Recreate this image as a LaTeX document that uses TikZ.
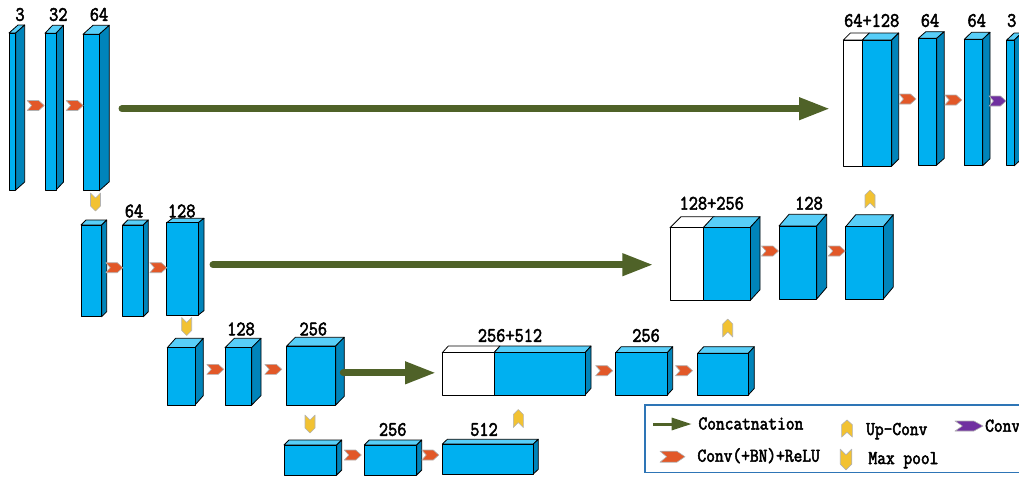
\documentclass[tikz,border=0pt]{standalone}
\usepackage{fontspec}
\usetikzlibrary{arrows.meta,fit}
\newfontfamily\lblfont[FakeStretch=0.87,FakeBold=2.6]{Latin Modern Mono}
\definecolor{frontc}{RGB}{0,176,240}
\definecolor{topc}{RGB}{88,206,248}
\definecolor{sidec}{RGB}{0,132,186}
\definecolor{concatc}{RGB}{79,98,40}
\definecolor{convc}{RGB}{226,88,40}
\definecolor{poolc}{RGB}{242,194,50}
\definecolor{finalc}{RGB}{112,48,160}
\definecolor{legendc}{RGB}{46,117,182}
\tikzset{
  face/.style={draw=black, line width=0.8pt, line join=round},
  frontbox/.style={face, fill=frontc, inner sep=0pt},
  whitebox/.style={face, fill=white, inner sep=0pt},
  num/.style={font=\lblfont\fontsize{20.5}{20.5}\selectfont, inner sep=0pt},
  legtxt/.style={font=\lblfont\fontsize{19.5}{19.5}\selectfont, inner sep=0pt, anchor=base west},
  concat/.style={draw=concatc, line width=7pt, line cap=round, -{Triangle[length=31pt,width=21pt]}},
  icon/.style={draw=gray!60, line width=0.6pt, line join=round},
  convchev/.pic={\filldraw[icon,fill=convc] (-8.5,-5) -- (3,-5) -- (8.5,0) -- (3,5) -- (-8.5,5) -- (-4,0) -- cycle;},
  finalchev/.pic={\filldraw[icon,fill=finalc] (-8.5,-5) -- (3,-5) -- (8.5,0) -- (3,5) -- (-8.5,5) -- (-4,0) -- cycle;},
  upchev/.pic={\filldraw[icon,fill=poolc] (-5,9) -- (-5,-4) -- (0,-9) -- (5,-4) -- (5,9) -- (0,4) -- cycle;},
  downchev/.pic={\filldraw[icon,fill=poolc] (-5,-9) -- (-5,4) -- (0,9) -- (5,4) -- (5,-9) -- (0,-4) -- cycle;},
}
% #1 name, #2 x1, #3 y1, #4 x2, #5 y2, #6 dx, #7 dy
\newcommand\blk[7]{%
  \filldraw[face,fill=topc] (#2,#3) -- ++(#6,-#7) -- ++(#4-#2,0) -- (#4,#3) -- cycle;
  \filldraw[face,fill=sidec] (#4,#3) -- ++(#6,-#7) -- ++(0,#5-#3) -- (#4,#5) -- cycle;
  \node[frontbox, fit={(#2,#3) (#4,#5)}] (#1) {};
}
\newcommand\wblk[7]{%
  \filldraw[face,fill=white] (#2,#3) -- ++(#6,-#7) -- ++(#4-#2,0) -- (#4,#3) -- cycle;
  \node[whitebox, fit={(#2,#3) (#4,#5)}] (#1) {};
}
\begin{document}
\begin{tikzpicture}[x=1pt,y=-1pt]
\useasboundingbox (0,0) rectangle (1019,477);
\clip (0,0) rectangle (1019,477);
% level 1 encoder
\blk{e1a}{9}{33}{15.7}{190}{9}{8}
\blk{e1b}{45}{33.3}{56}{190}{7.5}{8}
\blk{e1c}{83}{34.3}{99.3}{190.7}{10}{9}
% level 1 decoder
\wblk{d1w}{843.3}{40}{862.3}{166}{7}{7}
\blk{d1c}{862.3}{40}{891.7}{166}{7}{7}
\blk{d1b}{918.3}{38.3}{936.7}{165}{7.5}{6.6}
\blk{d1a}{964.3}{39.3}{982.7}{165.7}{7.3}{7}
\blk{out}{1006.7}{40}{1014.3}{165.7}{7.4}{7}
% level 2 encoder
\blk{e2a}{81}{225}{101.7}{316.7}{5}{5}
\blk{e2b}{122.7}{225}{143.3}{316.7}{5}{5}
\blk{e2c}{166.7}{222.7}{198.3}{315}{5.7}{4.4}
% level 2 decoder
\wblk{d2w}{670}{227.7}{703.3}{300.7}{11}{11}
\blk{d2c}{703.3}{227.7}{750}{300.7}{10}{11}
\blk{d2b}{779}{226}{816.7}{299}{10}{11.7}
\blk{d2a}{845.7}{226.7}{883.3}{299}{10}{12}
% level 3 encoder
\blk{e3a}{167.3}{347.7}{195}{405}{8.3}{9.4}
\blk{e3b}{225}{347.7}{251.7}{405}{9.3}{9.4}
\blk{e3c}{286.7}{346}{335.7}{405}{8.6}{8.7}
% level 3 decoder
\wblk{d3w}{442.3}{352.7}{494}{395}{6}{6.7}
\blk{d3c}{494}{352.7}{585}{395}{6}{6.7}
\blk{d3b}{615.7}{352.7}{667.3}{395}{5.4}{6}
\blk{d3a}{697.7}{353.3}{748.3}{395}{6}{6.6}
% level 4
\blk{b4a}{284}{445}{336.7}{475}{5}{5}
\blk{b4b}{364.3}{445}{416.7}{475}{5}{5}
\blk{b4c}{442.3}{444}{533.3}{474}{5}{4.7}
% labels
\node[num] (t1) at (20,14.5) {3};
\node[num] (t2) at (58.3,14.5) {32};
\node[num] (t3) at (99,14.5) {64};
\node[num] (t4) at (871.7,20.5) {64+128};
\node[num] (t5) at (930,20.5) {64};
\node[num] (t6) at (976.7,20.5) {64};
\node[num] (t7) at (1011.7,20.5) {3};
\node[num] (t8) at (134,211) {64};
\node[num] (t9) at (181.7,211) {128};
\node[num] (t10) at (711.7,203.3) {128+256};
\node[num] (t11) at (809,203.3) {128};
\node[num] (t12) at (241,329) {128};
\node[num] (t13) at (313.3,329) {256};
\node[num] (t14) at (510,335.5) {256+512};
\node[num] (t15) at (646,335.5) {256};
\node[num] (t16) at (392.7,429.5) {256};
\node[num] (t17) at (484,429.5) {512};
% conv chevrons
\pic at (35.7,105.5) {convchev};
\pic at (74.7,105.5) {convchev};
\pic at (907.5,99) {convchev};
\pic at (953.3,100) {convchev};
\pic at (997.5,101) {finalchev};
\pic at (114.3,267.7) {convchev};
\pic at (158.3,267.7) {convchev};
\pic at (770,251) {convchev};
\pic at (836.7,251) {convchev};
\pic at (215.3,369.3) {convchev};
\pic at (273.3,369.3) {convchev};
\pic at (604.2,370.7) {convchev};
\pic at (684,370.7) {convchev};
\pic at (352.8,455) {convchev};
\pic at (430.3,455) {convchev};
% up-conv and max pool
\pic at (870,199) {upchev};
\pic at (727.7,328) {upchev};
\pic at (518.3,418.5) {upchev};
\pic at (95.5,202) {downchev};
\pic at (186.7,326.5) {downchev};
\pic at (310,424) {downchev};
% concatenation arrows
\coordinate (g1s) at (122,108.7);
\coordinate (g1e) at (830,108.7);
\coordinate (g2s) at (213,264.7);
\coordinate (g2e) at (653.3,264.7);
\coordinate (g3s) at (343.3,372.8);
\coordinate (g3e) at (436,372.8);
\draw[concat] (g1s) -- (g1e);
\draw[concat] (g2s) -- (g2e);
\draw[concat] (g3s) -- (g3e);
% legend
\node[draw=legendc, line width=1.2pt, inner sep=0pt, fit={(645,405) (1030,472.7)}] (legend) {};
\coordinate (lgs) at (653.3,424);
\coordinate (lge) at (691.7,424);
\draw[draw=concatc, line width=3pt, -{Triangle[length=20pt,width=12pt]}] (lgs) -- (lge);
\node[legtxt] (l1) at (698.3,429.5) {Concatnation};
\pic[xscale=1.07,yscale=0.95] at (847,428.5) {upchev};
\node[legtxt] (l2) at (866,435) {Up-Conv};
\pic[xscale=1.65,yscale=1.0] at (969,426) {finalchev};
\node[legtxt] (l3) at (985,431.7) {Conv};
\pic[xscale=1.47,yscale=1.1] at (672.5,456.7) {convchev};
\node[legtxt] (l4) at (697.3,461.7) {Conv(+BN)+ReLU};
\pic[xscale=1.15,yscale=1.15] at (846,459.5) {downchev};
\node[legtxt] (l5) at (868.3,464) {Max pool};
\end{tikzpicture}
\end{document}
